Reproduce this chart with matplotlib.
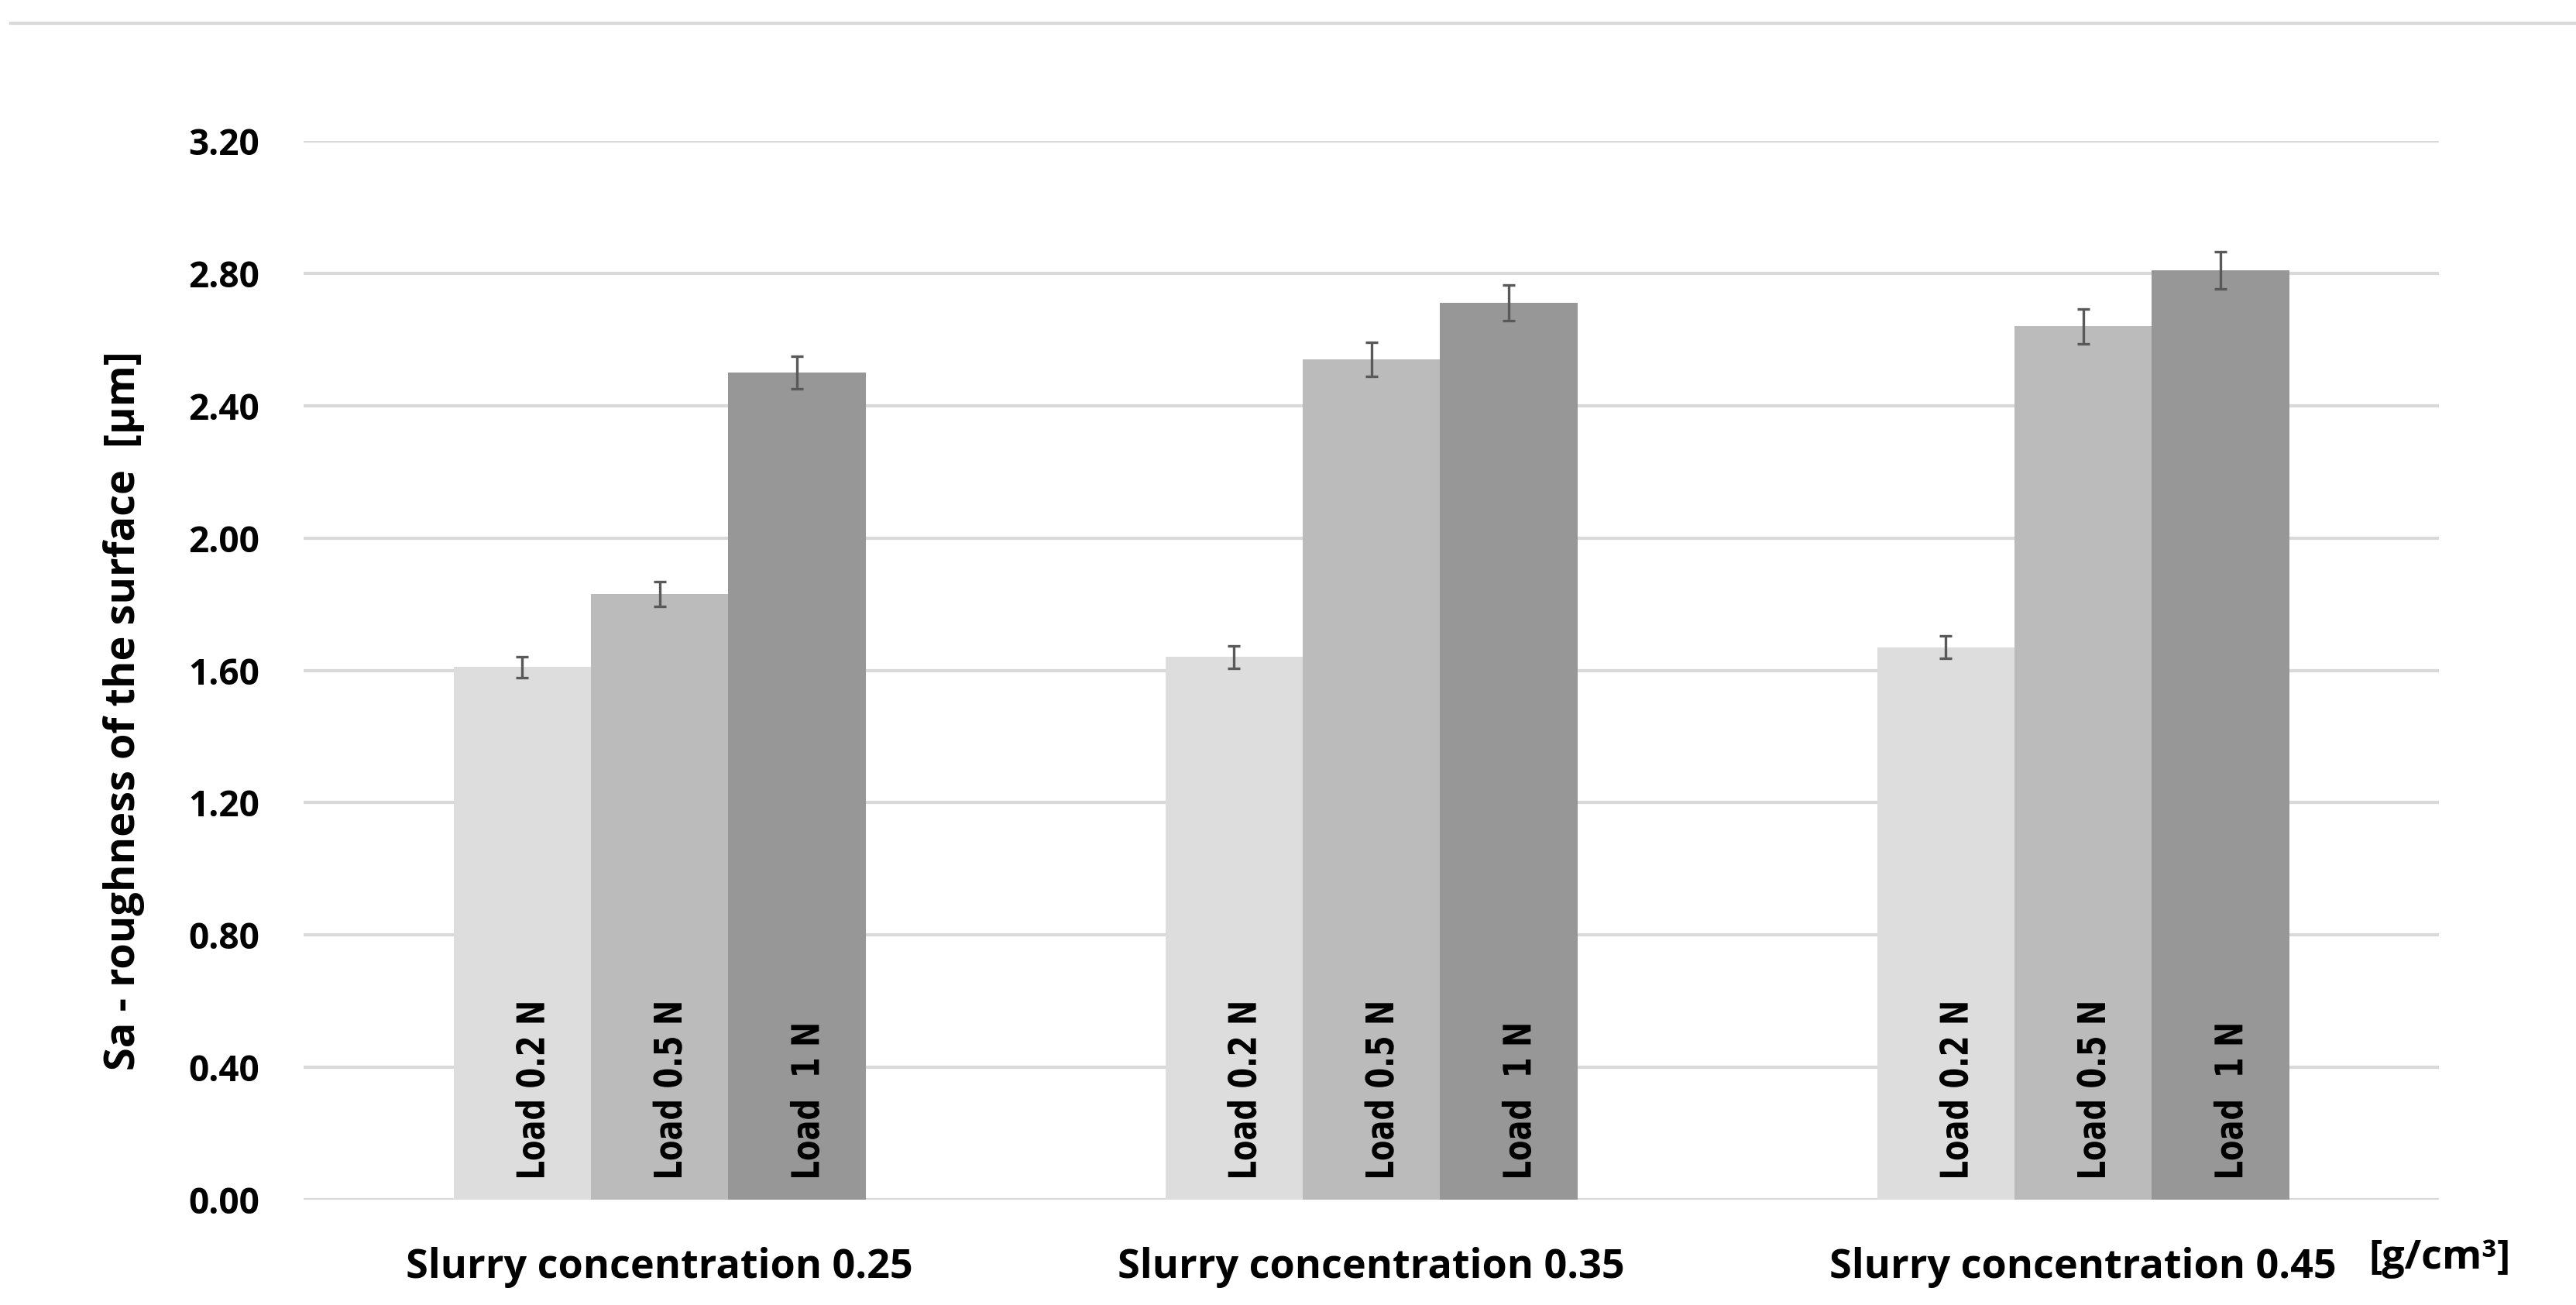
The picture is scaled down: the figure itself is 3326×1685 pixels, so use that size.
import numpy as np
import matplotlib.pyplot as plt
from matplotlib.lines import Line2D
from matplotlib.textpath import TextPath
from matplotlib.font_manager import FontProperties
from matplotlib.patches import PathPatch
from matplotlib.transforms import Affine2D

# data
groups = ['Slurry concentration 0.25', 'Slurry concentration 0.35', 'Slurry concentration 0.45']
loads = ['Load 0.2 N', 'Load 0.5 N', 'Load  1 N']
sa_02 = [1.61, 1.64, 1.67]
sa_05 = [1.83, 2.54, 2.64]
sa_1 = [2.50, 2.71, 2.81]
err_02 = [0.032, 0.033, 0.034]
err_05 = [0.037, 0.051, 0.053]
err_1 = [0.050, 0.054, 0.056]
yticks = [0.0, 0.4, 0.8, 1.2, 1.6, 2.0, 2.4, 2.8, 3.2]

colors = ['#dddddd', '#bbbbbb', '#979797']
font_main = ['Open Sans', 'DejaVu Sans']

fig = plt.figure(figsize=(33.26, 16.85), dpi=100)
ax = fig.add_axes([0.1179, 0.0807, 0.8289, 0.8113])

x = np.arange(len(groups))
w = 0.193
series = [(sa_02, err_02), (sa_05, err_05), (sa_1, err_1)]
for i, (vals, errs) in enumerate(series):
    pos = x + (i - 1) * w
    ax.bar(pos, vals, width=w, color=colors[i], zorder=2)
    ax.errorbar(pos, vals, yerr=errs, fmt='none', ecolor='#595959',
                elinewidth=2.4, capsize=5.8, capthick=2.4, zorder=3)

ax.set_xlim(-0.5, 2.5)
ax.set_ylim(0, 3.2)
ax.set_yticks(yticks)
ax.set_yticklabels([f'{v:.2f}' for v in yticks], fontsize=33,
                   fontweight='bold', family=font_main)
ax.tick_params(axis='y', length=0, pad=41)
ax.set_xticks([])
ax.grid(axis='y', color='#d9d9d9', linewidth=3, zorder=0)
for s in ax.spines.values():
    s.set_visible(False)

# rotated labels inside the bars, widened glyphs like the original
fp = FontProperties(family='DejaVu Sans', weight='bold')
for i in range(len(loads)):
    tp = TextPath((0, 0), loads[i], size=38.5, prop=fp)
    ext = tp.get_extents()
    for p in x + (i - 1) * w:
        bx, by = ax.transData.transform((p, 0.068))
        tr = (Affine2D().translate(-ext.x0, -(ext.y0 + ext.y1) / 2)
              .scale(1, 1.28).rotate_deg(90).translate(bx + 10, by))
        fig.add_artist(PathPatch(tp, transform=tr, facecolor='black',
                                 edgecolor='none', zorder=5))

for xi, g in zip(x, groups):
    ax.text(xi, -0.205, g, ha='center', va='center', fontsize=37.5,
            fontweight='bold', family=font_main)
fig.text(3150 / 3326, 1 - 1624 / 1685, '[g/cm³]', ha='center', va='center',
         fontsize=37.5, fontweight='bold', family=font_main)

fig.text(160 / 3326, 1 - 918 / 1685, 'Sa - roughness of the surface  [µm]',
         rotation=90, ha='center', va='center', fontsize=39,
         fontweight='bold', family=font_main)

# chart area border line at the top
fig.add_artist(Line2D([14 / 3326, 1.0], [1 - 30 / 1685, 1 - 30 / 1685],
                      color='#d9d9d9', linewidth=3))

fig.savefig('out.png', dpi=100)
